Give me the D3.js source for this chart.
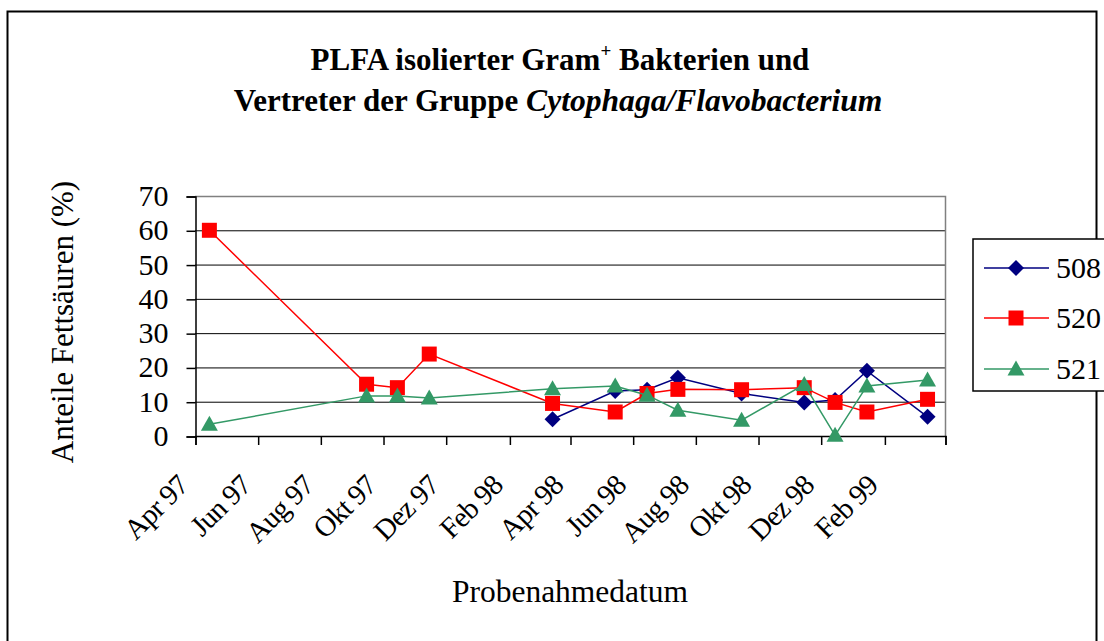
<!DOCTYPE html>
<html>
<head>
<meta charset="utf-8">
<script src="https://cdn.jsdelivr.net/npm/d3@7"></script>
<style>
  html, body { margin: 0; padding: 0; background: #fff; }
  svg { display: block; font-family: "Liberation Serif", "Times New Roman", serif; }
</style>
</head>
<body>
<svg id="chart" width="1104" height="641"></svg>
<script>
// Sampling dates (mid-month) and PLFA shares per isolate
const sampleDates = ["1997-04-15", "1997-09-15", "1997-10-15", "1997-11-15",
  "1998-03-15", "1998-05-15", "1998-06-15", "1998-07-15", "1998-09-15",
  "1998-11-15", "1998-12-15", "1999-01-15", "1999-03-15"];
const values508 = [null, null, null, null, 4.9, 13.1, 13.5, 17.0, 12.4, 9.8, 10.5, 19.0, 5.6];
const values520 = [60.0, 15.1, 14.1, 23.9, 9.5, 7.0, 12.4, 13.6, 13.5, 14.1, 9.8, 7.0, 10.7];
const values521 = [3.4, 11.7, 11.7, 11.1, 13.8, 14.6, 11.9, 7.5, 4.6, 15.0, 0.2, 14.6, 16.3];
const seriesNames = ["508", "520", "521"];
const tickLabels = ["Apr 97", "Jun 97", "Aug 97", "Okt 97", "Dez 97", "Feb 98",
  "Apr 98", "Jun 98", "Aug 98", "Okt 98", "Dez 98", "Feb 99"];
const yTicks = [0, 10, 20, 30, 40, 50, 60, 70];

const parse = d3.timeParse("%Y-%m-%d");
const dates = sampleDates.map(parse);

const svg = d3.select("#chart");

// chart frame
svg.append("rect").attr("x", 7.5).attr("y", 11.5).attr("width", 1089).attr("height", 640)
  .attr("fill", "#fff").attr("stroke", "#000").attr("stroke-width", 2);

const plotL = 195, plotR = 945, plotT = 196, plotB = 436;
const start = new Date(1997, 3, 1), end = new Date(1999, 3, 1);
const x = d3.scaleTime().domain([start, end]).range([plotL, plotR]);
const y = d3.scaleLinear().domain([0, 70]).range([plotB, plotT]);

// title
const title = svg.append("text").attr("text-anchor", "middle").attr("font-weight", "bold")
  .attr("font-size", 31).attr("fill", "#000");
const t1 = title.append("tspan").attr("x", 560).attr("y", 70);
t1.append("tspan").text("PLFA isolierter Gram");
t1.append("tspan").attr("font-size", 19).attr("dy", -13).text("+");
t1.append("tspan").attr("dy", 13).text(" Bakterien und");
const t2 = title.append("tspan").attr("x", 558).attr("y", 111);
t2.append("tspan").text("Vertreter der Gruppe ");
t2.append("tspan").attr("font-style", "italic").attr("font-size", 31.6).text("Cytophaga/Flavobacterium");

// gridlines
svg.append("g").selectAll("line").data(yTicks.filter(d => d > 0 && d < 70)).join("line")
  .attr("x1", plotL).attr("x2", plotR).attr("y1", d => y(d) + 0.5).attr("y2", d => y(d) + 0.5)
  .attr("stroke", "#000").attr("stroke-width", 1);

// plot border (top/right grey)
svg.append("path")
  .attr("d", `M${plotL},${plotT + 0.5}H${plotR + 0.5}V${plotB}`)
  .attr("fill", "none").attr("stroke", "#808080").attr("stroke-width", 1.5);

// y axis
const yAxis = d3.axisLeft(y).tickValues(yTicks).tickSize(9).tickPadding(0).tickFormat(d3.format("d"));
const gy = svg.append("g").attr("transform", `translate(${plotL + 0.5},0.5)`).call(yAxis);
gy.select(".domain").attr("stroke", "#000").attr("stroke-width", 1.5);
gy.selectAll(".tick line").attr("stroke", "#000").attr("stroke-width", 1.5);
gy.selectAll(".tick text").attr("x", -27).attr("dy", "0.3em")
  .attr("font-size", 30).attr("font-family", "Liberation Serif, Times New Roman, serif").attr("fill", "#000");

// x axis
const tickDates = d3.timeMonth.range(start, d3.timeMonth.offset(end, 1), 2);
const xAxis = d3.axisBottom(x).tickValues(tickDates).tickSize(9).tickFormat("");
const gx = svg.append("g").attr("transform", `translate(0.5,${plotB})`).call(xAxis);
gx.select(".domain").attr("stroke", "#000").attr("stroke-width", 1.5);
gx.selectAll(".tick line").attr("stroke", "#000").attr("stroke-width", 1.5);

svg.append("g").selectAll("text").data(tickLabels).join("text")
  .attr("transform", (d, i) => `translate(${x(tickDates[i]) - 5},${plotB + 51}) rotate(-45)`)
  .attr("text-anchor", "end").attr("font-size", 29).attr("letter-spacing", -0.8)
  .attr("fill", "#000").text(d => d);

// axis titles
svg.append("text").attr("transform", `translate(73,322) rotate(-90)`)
  .attr("text-anchor", "middle").attr("font-size", 31).text("Anteile Fettsäuren (%)");
svg.append("text").attr("x", 570).attr("y", 602)
  .attr("text-anchor", "middle").attr("font-size", 31.5).text("Probenahmedatum");

// series
const series = [
  { name: seriesNames[0], values: values508, color: "#000080", marker: "diamond" },
  { name: seriesNames[1], values: values520, color: "#ff0000", marker: "square" },
  { name: seriesNames[2], values: values521, color: "#339966", marker: "triangle" }
];
const markerPath = {
  diamond: "M0,-8L8,0L0,8L-8,0Z",
  square: "M-7.5,-7.5H7.5V7.5H-7.5Z",
  triangle: "M0,-8.5L8.5,6.5L-8.5,6.5Z"
};

const line = d3.line().defined(d => d.v != null).x(d => x(d.date)).y(d => y(d.v));
series.forEach(s => {
  const pts = dates.map((d, i) => ({ date: d, v: s.values[i] }));
  const g = svg.append("g");
  g.append("path").datum(pts).attr("d", line)
    .attr("fill", "none").attr("stroke", s.color).attr("stroke-width", 1.5);
  g.selectAll("path.m").data(pts.filter(d => d.v != null)).join("path").attr("class", "m")
    .attr("transform", d => `translate(${x(d.date)},${y(d.v)})`)
    .attr("d", markerPath[s.marker]).attr("fill", s.color);
});

// legend
const lg = svg.append("g");
lg.append("rect").attr("x", 973).attr("y", 239).attr("width", 140).attr("height", 152)
  .attr("fill", "#fff").attr("stroke", "#000").attr("stroke-width", 1.5);
const rowsY = [268, 318, 369];
series.forEach((s, i) => {
  const yy = rowsY[i];
  lg.append("line").attr("x1", 984).attr("x2", 1049).attr("y1", yy).attr("y2", yy)
    .attr("stroke", s.color).attr("stroke-width", 1.5);
  lg.append("path").attr("transform", `translate(1016,${yy})`).attr("d", markerPath[s.marker]).attr("fill", s.color);
  lg.append("text").attr("x", 1056).attr("y", yy).attr("dy", "0.34em")
    .attr("font-size", 30).attr("fill", "#000").text(s.name);
});
</script>
</body>
</html>
